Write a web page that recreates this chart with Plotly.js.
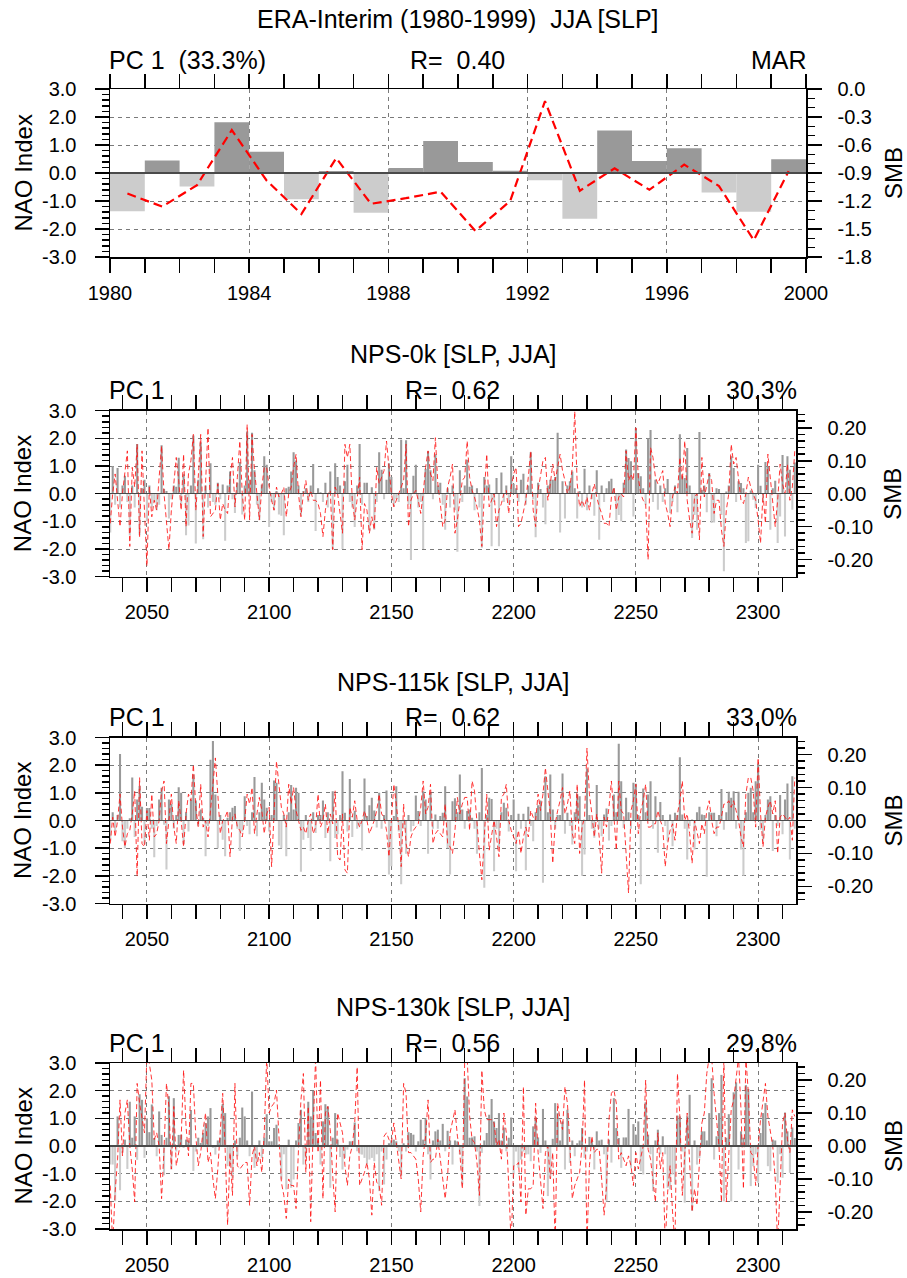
<!DOCTYPE html>
<html><head><meta charset="utf-8">
<script src="https://cdn.plot.ly/plotly-3.0.1.min.js"></script>
<style>html,body{margin:0;padding:0;background:#fff}#chart{width:907px;height:1278px}</style>
</head><body><div id="chart"></div>
<script>
// ---------------- DATA ----------------
const eraYears = [1980,1981,1982,1983,1984,1985,1986,1987,1988,1989,1990,1991,1992,1993,1994,1995,1996,1997,1998,1999];
const eraNAO = [-1.37,0.45,-0.48,1.81,0.76,-0.94,0.07,-1.42,0.18,1.14,0.39,0.08,-0.26,-1.63,1.52,0.43,0.88,-0.70,-1.38,0.49];
const eraSMB = [-1.12,-1.26,-1.03,-0.44,-0.98,-1.34,-0.74,-1.23,-1.17,-1.10,-1.52,-1.20,-0.13,-1.09,-0.85,-1.08,-0.81,-1.04,-1.62,-0.88];

const npsFirstYear = 2035;   // model years 2035 ... 2315

const nps0kNAO = [
-1.4,1.0,-0.4,0.93,-0.5,0.3,0.65,-0.3,-1.5,0.3,
-0.5,1.8,-1.5,0.2,0.5,-1.0,0.3,-0.5,-0.3,-0.6,
-0.4,1.75,0.17,0.1,-0.9,-0.2,0.3,0.25,1.3,-0.4,
0.7,-1.5,-1.15,0.3,2.1,-1.8,0.5,1.85,-1.65,0.3,
-0.5,1.1,-0.3,-0.4,0.4,-0.2,0.33,-1.7,0.3,0.8,
-0.2,-0.7,0.4,1.15,-0.75,0.3,2.25,0.5,2.2,0.85,
-0.4,-0.95,0.33,1.35,1.05,-1.2,-0.3,-0.6,0.1,-0.75,
-0.8,-1.5,0.2,0.25,0.8,1.5,1.2,0.3,-0.8,0.1,
0.2,-0.3,0.3,1.07,-1.35,0.2,0.05,-0.3,0.4,-0.5,
0.8,-2.0,1.1,0.6,0.3,-2.0,0.45,1.05,-0.3,-0.5,
-1.2,0.3,1.8,-0.4,0.4,0.4,-1.35,0.23,-1.3,-0.3,
1.5,0.87,-0.2,0.5,1.1,0.6,-0.45,-0.2,-0.3,1.95,
0.2,1.93,-0.4,-2.4,0.65,1.05,-0.5,-0.3,-2.0,0.9,
1.53,0.85,-0.2,1.43,0.3,0.4,-0.4,-1.3,0.2,-0.5,
0.3,-0.6,-2.1,0.85,-0.3,0.3,1.23,0.25,0.3,-0.6,
0.2,-0.5,-1.95,0.6,0.3,0.33,-1.9,-0.3,0.57,-1.9,
0.77,-0.3,0.3,-0.4,1.35,0.36,0.2,-0.3,0.5,0.72,
-0.4,0.3,1.5,-0.2,-1.57,0.4,0.17,-0.5,-1.1,0.3,
0.5,0.5,0.6,2.2,-1.4,0.45,-0.9,0.3,0.45,0.8,
0.2,-0.9,0.1,-0.5,0.9,-0.6,0.3,-0.2,-0.8,0.85,
-1.66,0.3,-0.3,0.2,0.45,0.54,0.2,-0.95,-0.77,-1.0,
0.4,1.6,1.29,1.17,-0.82,2.37,0.75,0.63,0.2,-0.4,
2.0,2.3,-0.3,0.5,-0.58,0.3,-0.3,0.2,0.53,-0.7,
-0.3,0.3,-0.67,2.15,0.63,0.57,1.65,0.3,-1.6,-0.77,
-1.3,2.23,0.14,0.3,-0.67,0.75,-1.06,-1.04,0.2,0.17,
-0.77,-2.8,0.08,0.3,1.35,0.93,-0.3,0.45,0.39,0.2,
-1.78,-1.72,0.12,-0.22,-0.52,1.05,0.29,-0.3,1.15,0.99,
-1.3,0.2,0.47,-1.78,-0.82,1.4,-1.55,1.35,0.87,-0.58,
1.13];
const nps0kSMB = [
-0.09,0.0,0.06,-0.02,-0.1,0.0,0.06,0.13,-0.16,0.08,
0.02,0.15,-0.13,0.13,-0.05,-0.22,0.02,-0.07,-0.02,-0.05,
0.05,0.145,0.0,-0.08,-0.17,-0.05,0.04,0.11,0.04,-0.05,
0.12,-0.1,0.06,0.1,0.18,-0.05,0.05,0.18,-0.13,0.05,
0.2,-0.07,-0.06,-0.05,0.03,-0.08,-0.03,-0.05,-0.06,0.05,
0.11,-0.04,0.05,0.16,0.0,-0.08,0.21,-0.08,0.18,0.07,
0.0,-0.08,0.02,0.08,0.08,0.02,-0.02,-0.05,0.02,-0.01,
0.0,0.02,-0.07,0.0,0.02,0.08,0.12,0.0,-0.07,0.0,
0.04,-0.02,0.01,-0.02,-0.02,-0.03,-0.06,-0.13,-0.05,0.0,
0.01,-0.17,0.02,0.0,-0.06,-0.12,0.15,0.11,0.15,-0.02,
-0.08,-0.01,0.05,-0.17,-0.03,-0.05,-0.12,-0.07,-0.11,0.08,
0.03,0.05,0.07,0.16,0.08,0.0,-0.04,-0.02,0.0,0.02,
0.04,0.15,-0.1,-0.02,0.0,0.01,-0.02,-0.06,0.0,0.08,
0.13,0.06,0.04,0.17,0.03,-0.03,-0.1,-0.08,0.02,0.05,
0.09,-0.12,-0.08,-0.02,0.04,0.05,0.16,0.05,0.01,-0.01,
-0.04,-0.08,-0.16,0.0,0.12,-0.04,-0.02,0.0,-0.1,-0.05,
-0.03,0.0,0.01,-0.06,0.02,0.06,0.08,-0.1,-0.09,-0.05,
-0.02,0.05,0.13,-0.05,-0.1,0.01,0.06,0.1,0.11,-0.02,
0.03,0.09,0.04,0.08,0.12,0.07,0.04,0.0,0.02,0.08,
0.25,0.03,-0.04,-0.02,-0.04,-0.01,-0.05,0.0,0.03,-0.01,
-0.04,-0.06,-0.09,-0.09,-0.1,-0.01,0.02,-0.05,-0.01,0.0,
-0.01,0.13,0.04,0.06,0.04,0.2,0.05,0.0,-0.02,-0.03,
-0.2,0.14,0.11,0.05,0.03,0.05,0.07,-0.03,-0.06,-0.1,
-0.01,0.02,0.0,0.11,0.04,0.16,-0.02,-0.08,-0.12,-0.01,
0.0,-0.14,0.11,-0.01,0.03,0.06,0.04,-0.06,-0.02,-0.02,
-0.11,-0.16,-0.05,0.0,0.15,0.09,0.11,0.05,-0.02,-0.03,
0.0,0.05,0.02,0.0,-0.02,-0.08,-0.15,0.0,-0.09,0.12,
0.04,-0.02,-0.1,-0.02,0.09,0.03,0.0,0.09,-0.02,0.02,
0.13];

const nps115kNAO = [
-0.75,0.3,-0.4,0.2,2.4,-0.75,-1.0,-0.3,0.08,1.55,
-0.6,0.76,1.25,0.5,-0.85,0.45,0.45,-0.3,-1.33,-0.2,
0.76,1.18,-0.15,-1.77,0.76,0.6,-0.3,0.2,1.2,1.0,
-0.85,0.3,-0.4,0.76,1.66,0.72,-0.2,0.4,0.1,-1.29,
-0.2,2.2,2.87,0.94,-1.0,0.2,-0.7,-1.29,0.1,0.3,
0.46,0.52,-0.3,-1.1,-0.4,0.88,-0.2,-0.5,0.3,1.57,
-0.57,0.3,1.36,0.76,0.46,-0.4,0.2,1.45,1.36,-0.9,
-1.0,0.2,-1.29,0.3,1.28,0.4,1.18,1.0,-1.85,-0.7,
0.2,-0.63,-1.1,0.3,-0.45,0.2,0.2,0.72,-0.63,0.3,
-1.47,1.06,-0.63,-0.5,0.2,1.78,0.28,-0.4,1.5,-0.6,
0.35,-0.3,-0.2,-1.08,1.52,0.16,0.55,0.82,0.36,-0.25,
1.0,-0.3,0.2,1.08,-1.95,-1.65,0.16,1.24,-0.4,-2.3,
-0.3,-1.2,0.2,-0.4,-0.2,0.9,0.34,-0.2,1.06,0.76,
-1.2,1.0,-0.3,0.22,-0.3,0.16,0.28,1.24,-1.0,-1.95,
0.7,0.8,0.3,1.66,0.4,-0.3,0.34,0.4,0.1,-0.3,
-1.2,0.3,1.9,-2.43,0.2,0.82,0.78,-1.83,-0.3,-1.0,
0.3,0.64,0.46,-0.4,0.2,0.76,-1.83,0.24,-0.3,0.24,
-1.8,0.5,-0.2,-0.75,0.3,0.55,0.72,-2.25,1.6,0.3,
1.66,0.4,-0.3,0.2,0.2,1.7,-0.48,0.28,-0.2,-0.87,
0.3,0.96,0.88,-2.0,-1.23,1.88,0.2,-0.3,-0.62,1.28,
-0.3,-0.57,0.22,0.43,-0.72,-0.2,0.94,0.3,2.77,1.42,
-0.27,0.82,0.3,-0.3,1.36,1.33,0.2,-2.3,1.16,0.3,
0.94,1.42,-0.3,0.88,-1.17,0.67,0.2,-0.2,-0.75,0.22,
-0.93,0.28,0.2,2.29,0.22,-0.3,-1.41,-0.2,0.04,-1.05,
0.3,0.5,0.22,0.2,-2.03,0.3,0.28,0.28,-0.57,0.2,
1.14,-0.33,0.3,1.04,0.82,1.06,-0.3,1.04,-1.05,-2.0,
0.3,1.0,1.18,0.3,1.42,2.05,-0.33,-0.75,0.2,0.76,
0.88,-1.1,0.2,-0.2,0.92,-0.5,0.76,1.34,-1.41,1.6,
-0.3];
const nps115kSMB = [
-0.07,0.01,-0.05,0.0,0.08,-0.02,-0.08,-0.04,-0.03,0.02,
0.09,-0.17,0.13,-0.07,-0.08,0.03,-0.06,0.08,-0.05,-0.04,
0.0,0.09,0.12,-0.07,0.0,0.08,-0.02,-0.07,0.06,0.0,
-0.08,0.02,0.08,0.06,0.17,0.04,-0.02,0.11,-0.02,0.0,
-0.05,0.03,0.1,0.19,0.08,-0.04,0.0,0.01,0.03,-0.11,
0.01,0.02,-0.02,-0.03,-0.05,0.0,0.08,0.05,0.1,-0.04,
0.02,0.07,0.03,-0.04,0.02,0.04,-0.14,0.04,0.18,0.11,
0.04,0.02,-0.02,0.11,0.05,0.1,0.03,0.0,-0.03,-0.02,
-0.04,0.0,0.02,-0.04,-0.02,0.08,-0.02,0.0,0.05,-0.04,
0.02,-0.01,0.09,-0.11,-0.12,0.02,-0.15,-0.16,0.04,0.01,
0.06,0.0,-0.02,0.0,0.03,0.0,-0.04,-0.02,0.0,0.03,
0.08,0.02,0.01,-0.03,-0.11,0.0,0.11,0.05,-0.02,-0.14,
0.05,-0.07,-0.11,-0.05,-0.03,-0.02,-0.01,0.04,0.12,0.02,
0.04,0.11,-0.07,-0.04,-0.03,-0.04,-0.05,0.05,-0.07,-0.08,
-0.1,-0.03,0.07,0.02,0.05,0.07,0.07,-0.03,0.12,0.09,
-0.02,-0.1,-0.18,-0.06,0.08,-0.09,-0.05,0.0,-0.05,-0.11,
0.07,0.08,0.11,0.0,-0.03,-0.05,-0.07,-0.03,-0.1,-0.05,
-0.02,-0.05,0.03,0.01,0.0,0.08,0.03,0.08,0.16,0.09,
0.02,-0.13,-0.01,0.03,0.06,0.1,0.02,0.05,0.09,-0.04,
-0.07,0.11,-0.1,-0.02,0.01,0.22,0.08,0.02,-0.05,0.02,
-0.05,-0.16,0.01,-0.02,0.04,0.12,0.0,-0.09,0.12,0.03,
0.02,-0.1,-0.22,0.03,0.06,0.11,-0.04,0.03,0.06,0.11,
-0.02,-0.02,-0.01,-0.01,0.03,0.0,-0.02,-0.14,-0.07,-0.03,
-0.01,-0.06,0.02,0.06,0.12,0.0,0.02,-0.04,-0.13,0.0,
-0.04,-0.07,-0.01,-0.04,0.03,0.06,0.0,-0.04,-0.02,-0.02,
0.01,0.05,0.05,0.06,0.04,0.06,0.03,0.0,-0.05,-0.08,
0.08,0.13,0.13,0.09,-0.02,0.19,0.02,-0.08,0.01,0.04,
0.06,0.02,0.06,-0.1,0.01,0.02,0.01,0.0,0.01,-0.06,
0.13];

const nps130kNAO = [
-0.67,-0.67,-2.0,1.07,-1.6,-0.25,0.23,-0.83,1.6,0.3,
1.07,-0.5,1.87,1.67,-0.43,1.0,0.5,1.5,0.29,-0.37,
1.25,0.4,-1.06,0.3,1.8,-0.85,1.73,-0.2,0.4,0.41,
-0.07,0.23,0.2,1.3,-0.9,-0.2,0.3,0.11,0.47,0.83,
1.07,1.37,-0.07,-0.31,0.2,0.3,1.52,1.19,-0.73,-0.67,
-1.15,0.2,-0.37,0.3,1.39,1.07,0.2,-0.37,1.97,-0.79,
-0.55,0.2,-0.43,0.3,1.15,0.17,0.17,0.65,0.77,0.05,
-1.21,-0.3,-1.57,0.23,-1.51,-1.21,0.2,0.83,1.31,-0.67,
-0.43,1.6,1.07,2.0,0.47,0.2,-0.67,0.89,1.51,1.43,
-1.51,0.3,1.19,0.23,-0.4,-0.85,-0.43,-0.13,0.17,0.17,
0.85,-0.19,-0.3,-0.31,-0.43,-0.67,-0.49,-0.43,-0.55,-0.3,
-1.63,-0.2,-1.39,-0.49,0.1,0.2,0.23,0.17,-0.2,-1.09,
0.1,-0.2,0.5,0.47,0.41,-0.2,0.17,0.95,0.23,1.0,
-0.3,-1.21,0.2,0.53,0.59,0.2,0.8,-0.19,0.55,0.2,
-0.67,0.2,0.17,-0.3,-1.39,2.45,1.79,0.3,0.31,0.35,
-0.2,-2.17,-0.25,0.2,0.47,1.13,1.7,0.89,0.65,1.19,
0.2,0.67,-0.19,0.3,1.03,-1.03,-0.2,-0.79,-0.49,-0.2,
-0.31,-0.3,-0.55,0.71,1.03,0.31,-0.25,1.34,0.2,-1.81,
-1.15,0.26,1.55,1.19,0.2,0.89,-0.85,1.31,-0.61,0.2,
-0.37,0.1,0.2,0.65,-0.43,-0.2,0.33,0.2,-0.85,0.53,
0.2,0.23,-0.3,-2.0,0.23,-0.6,1.73,0.65,0.29,-0.79,
0.31,0.31,1.34,-0.79,0.79,0.41,0.89,-0.91,-1.03,1.58,
0.41,-0.3,-1.63,0.2,0.59,-0.3,0.35,-0.3,-1.51,-1.57,
-1.03,-1.39,1.1,1.07,-0.2,-2.05,1.07,1.85,-2.35,0.2,
-0.67,-0.43,0.53,0.53,0.2,1.19,2.45,-0.49,0.35,1.19,
2.57,-2.0,0.3,1.15,-2.0,1.94,2.3,-0.85,0.53,0.3,
2.2,2.06,-1.45,-0.73,-0.3,-1.33,0.47,1.19,1.55,-0.73,
-0.91,0.23,0.2,-1.33,-0.3,-1.15,1.21,0.53,-0.97,0.67,
0.29];
const nps130kSMB = [
-0.12,-0.30,-0.14,-0.04,0.14,-0.03,0.1,0.14,0.0,-0.07,
-0.17,0.19,0.13,0.09,0.04,0.28,0.25,0.2,0.02,0.04,
0.0,-0.16,-0.01,0.19,0.12,-0.07,0.12,-0.06,-0.02,0.02,
0.23,0.06,-0.03,0.19,0.19,0.03,-0.06,-0.02,0.05,0.1,
-0.05,-0.02,-0.1,-0.16,-0.07,0.04,0.16,-0.01,-0.24,-0.02,
-0.15,0.19,-0.06,-0.07,-0.06,-0.05,-0.05,-0.18,-0.03,0.0,
-0.06,-0.02,-0.08,0.04,0.27,0.1,0.12,0.13,0.17,0.02,
-0.11,-0.15,-0.22,-0.1,-0.12,-0.12,-0.19,-0.01,0.14,0.22,
-0.08,0.12,-0.23,0.05,0.27,-0.02,0.2,-0.16,0.1,0.12,
0.05,-0.09,-0.2,0.1,0.07,0.04,-0.06,-0.12,-0.03,0.0,
0.07,0.24,-0.12,-0.1,-0.08,-0.05,-0.1,-0.21,-0.05,-0.11,
-0.12,-0.18,0.03,0.04,0.02,0.01,0.07,0.01,-0.04,-0.1,
0.19,0.16,-0.02,-0.02,-0.03,-0.04,-0.1,-0.2,-0.03,0.03,
0.14,-0.05,-0.04,-0.04,0.02,-0.05,-0.1,-0.16,-0.09,0.04,
0.08,0.11,0.03,-0.02,-0.13,0.27,0.27,0.09,0.02,0.01,
-0.05,-0.15,0.23,0.11,0.08,0.08,0.08,0.07,0.0,0.02,
-0.04,0.1,0.04,-0.12,-0.3,-0.06,-0.06,-0.05,-0.17,0.18,
-0.21,-0.13,-0.13,-0.12,0.13,-0.02,-0.1,-0.19,-0.02,0.0,
-0.1,-0.02,-0.3,0.13,0.08,0.05,0.18,0.13,0.01,-0.16,
-0.12,-0.1,-0.08,0.0,0.2,-0.3,-0.06,0.03,-0.02,-0.01,
-0.01,-0.1,-0.21,-0.12,0.08,0.16,0.17,0.13,-0.04,-0.02,
-0.04,-0.06,-0.03,-0.06,-0.12,-0.02,-0.07,-0.03,0.0,0.2,
-0.01,-0.04,-0.1,-0.17,0.04,-0.07,-0.02,-0.3,-0.14,-0.06,
-0.2,-0.3,0.22,0.09,-0.15,-0.02,0.1,-0.05,-0.2,-0.13,
-0.18,-0.05,0.07,0.1,0.22,0.27,0.27,0.16,0.08,0.0,
-0.17,0.27,-0.17,-0.04,0.11,0.14,0.2,0.27,0.11,-0.13,
0.27,0.16,-0.02,-0.03,-0.12,0.0,0.08,0.13,0.19,0.09,
0.04,0.0,-0.1,-0.3,-0.12,0.07,0.1,0.02,-0.02,0.11,
0.09];

// text
const panelTitles = ['ERA-Interim (1980-1999)\u00a0\u00a0JJA [SLP]', 'NPS-0k [SLP, JJA]', 'NPS-115k [SLP, JJA]', 'NPS-130k [SLP, JJA]'];
const pcLabels = ['PC 1\u00a0\u00a0(33.3%)', 'PC 1', 'PC 1', 'PC 1'];
const rLabels = ['R=\u00a0\u00a00.40', 'R=\u00a0\u00a00.62', 'R=\u00a0\u00a00.62', 'R=\u00a0\u00a00.56'];
const rightLabels = ['MAR', '30.3%', '33.0%', '29.8%'];
const leftAxisTitle = 'NAO Index';
const rightAxisTitle = 'SMB';

// tick labels
const naoTickVals = [-3, -2, -1, 0, 1, 2, 3];
const naoTickText = ['-3.0', '-2.0', '-1.0', '0.0', '1.0', '2.0', '3.0'];
const eraSmbTickVals = [-1.8, -1.5, -1.2, -0.9, -0.6, -0.3, 0.0];
const eraSmbTickText = ['-1.8', '-1.5', '-1.2', '-0.9', '-0.6', '-0.3', '0.0'];
const npsSmbTickVals = [-0.2, -0.1, 0, 0.1, 0.2];
const npsSmbTickText = ['-0.20', '-0.10', '0.00', '0.10', '0.20'];

// ---------------- BUILD ----------------
const W = 907, H = 1278;
const px = x => x / W;
const py = y => 1 - y / H;
const FONT = 'Liberation Sans, Arial, Helvetica, sans-serif';
const DARK = '#999999', LIGHT = '#cccccc';
const GRID = '#7a7a7a';

const npsYears = nps0kNAO.map((_, i) => npsFirstYear + i);

const panels = [
  {xl:110, xr:806, yt:89,    yb:257,   titleY:18.5, subY:60,   xr0:[1980, 2000],     xt0:1980, xdt:4,  xmin:1,  smbRange:[-1.8, 0],       smbVals:eraSmbTickVals, smbText:eraSmbTickText, smbMinor:0.1},
  {xl:110, xr:796, yt:410.7, yb:576.7, titleY:354,  subY:390,  xr0:[2034.9, 2315.5], xt0:2000, xdt:50, xmin:10, smbRange:[-0.252, 0.252], smbVals:npsSmbTickVals, smbText:npsSmbTickText, smbMinor:0.02},
  {xl:110, xr:796, yt:737.5, yb:903.5, titleY:682,  subY:717,  xr0:[2034.9, 2315.5], xt0:2000, xdt:50, xmin:10, smbRange:[-0.252, 0.252], smbVals:npsSmbTickVals, smbText:npsSmbTickText, smbMinor:0.02},
  {xl:110, xr:796, yt:1063,  yb:1229,  titleY:1007, subY:1043, xr0:[2034.9, 2315.5], xt0:2000, xdt:50, xmin:10, smbRange:[-0.252, 0.252], smbVals:npsSmbTickVals, smbText:npsSmbTickText, smbMinor:0.02},
];

const series = [
  {x: eraYears.map(y => y + 0.5), nao: eraNAO, smb: eraSMB, w: 1, lw: 2.2, dash: '9px,5px', lc: '#ff0000'},
  {x: npsYears, nao: nps0kNAO,   smb: nps0kSMB,   w: 0.85, lw: 1, dash: '5px,3px', lc: 'rgba(255,20,20,0.85)'},
  {x: npsYears, nao: nps115kNAO, smb: nps115kSMB, w: 0.85, lw: 1, dash: '5px,3px', lc: 'rgba(255,20,20,0.85)'},
  {x: npsYears, nao: nps130kNAO, smb: nps130kSMB, w: 0.85, lw: 1, dash: '5px,3px', lc: 'rgba(255,20,20,0.85)'},
];

const tickFont = {family: FONT, size: 20, color: '#000'};
const layout = {
  width: W, height: H, margin: {l:0, r:0, t:0, b:0},
  paper_bgcolor: '#fff', plot_bgcolor: 'rgba(0,0,0,0)',
  showlegend: false, barmode: 'overlay', annotations: [],
  font: {family: FONT, color: '#000'}
};
const traces = [];

panels.forEach((p, i) => {
  const xId = i === 0 ? 'x' : 'x' + (i + 1);
  const yL = 2 * i + 1, yR = 2 * i + 2;
  const yLId = yL === 1 ? 'y' : 'y' + yL;
  const yRId = 'y' + yR;
  const s = series[i];

  layout[i === 0 ? 'xaxis' : 'xaxis' + (i + 1)] = {
    domain: [px(p.xl), px(p.xr)], anchor: yLId, range: p.xr0,
    tickmode: 'linear', tick0: p.xt0, dtick: p.xdt,
    ticks: 'outside', ticklen: 14, tickwidth: 1.5, tickcolor: '#000',
    showline: true, linewidth: 1.5, linecolor: '#000', mirror: 'allticks',
    showgrid: true, gridcolor: GRID, gridwidth: 1, griddash: '4px,4px', zeroline: false,
    minor: {tickmode: 'linear', tick0: p.xt0, dtick: p.xmin, ticks: 'outside', ticklen: 7, tickwidth: 1.5, tickcolor: '#000', showgrid: false},
    tickfont: tickFont, ticklabelstandoff: 3, fixedrange: true
  };
  layout['yaxis' + (yL === 1 ? '' : yL)] = {
    domain: [py(p.yb), py(p.yt)], anchor: xId, range: [-3, 3],
    tickmode: 'array', tickvals: naoTickVals, ticktext: naoTickText,
    ticks: 'outside', ticklen: 14, tickwidth: 1.5, tickcolor: '#000',
    showline: true, linewidth: 1.5, linecolor: '#000', mirror: false,
    showgrid: true, gridcolor: GRID, gridwidth: 1, griddash: '4px,4px',
    zeroline: true, zerolinecolor: '#4a4a4a', zerolinewidth: 1.5, zerolinelayer: 'above traces',
    minor: {tickmode: 'linear', tick0: 0, dtick: 0.2, ticks: 'outside', ticklen: 7, tickwidth: 1.5, tickcolor: '#000', showgrid: false},
    tickfont: tickFont, ticklabelstandoff: 14, fixedrange: true
  };
  layout['yaxis' + yR] = {
    overlaying: yLId, side: 'right', anchor: xId, range: p.smbRange,
    tickmode: 'array', tickvals: p.smbVals, ticktext: p.smbText,
    ticks: 'outside', ticklen: 14, tickwidth: 1.5, tickcolor: '#000',
    showline: true, linewidth: 1.5, linecolor: '#000',
    showgrid: false, zeroline: false,
    minor: {tickmode: 'linear', tick0: 0, dtick: p.smbMinor, ticks: 'outside', ticklen: 7, tickwidth: 1.5, tickcolor: '#000', showgrid: false},
    tickfont: tickFont, ticklabelstandoff: 12, fixedrange: true
  };

  traces.push({
    type: 'bar', x: s.x, y: s.nao, width: s.w, xaxis: xId, yaxis: yLId,
    marker: {color: s.nao.map(v => v >= 0 ? DARK : LIGHT), line: {width: 0}},
    hoverinfo: 'skip'
  });
  traces.push({
    type: 'scatter', mode: 'lines', x: s.x, y: s.smb, xaxis: xId, yaxis: yRId,
    line: {color: s.lc, width: s.lw, dash: s.dash}, hoverinfo: 'skip'
  });

  const mid = (p.yt + p.yb) / 2;
  const ann = (text, x, y, xa, size, extra) => layout.annotations.push(Object.assign({
    text, x: px(x), y: py(y), xref: 'paper', yref: 'paper', xanchor: xa, yanchor: 'middle',
    showarrow: false, font: {family: FONT, size, color: '#000'}
  }, extra || {}));
  ann(panelTitles[i], (p.xl + p.xr) / 2, p.titleY, 'center', 25);
  ann(pcLabels[i], p.xl - 3, p.subY, 'left', 25);
  ann(rLabels[i], (p.xl + p.xr) / 2 - 1, p.subY, 'center', 25);
  ann(rightLabels[i], p.xr + 3, p.subY, 'right', 25);
  ann(leftAxisTitle, 22.5, mid, 'center', 24, {textangle: -90});
  ann(rightAxisTitle, 893, mid, 'center', 24, {textangle: -90});
});

Plotly.newPlot('chart', traces, layout, {staticPlot: true, displayModeBar: false});
</script>
</body></html>
